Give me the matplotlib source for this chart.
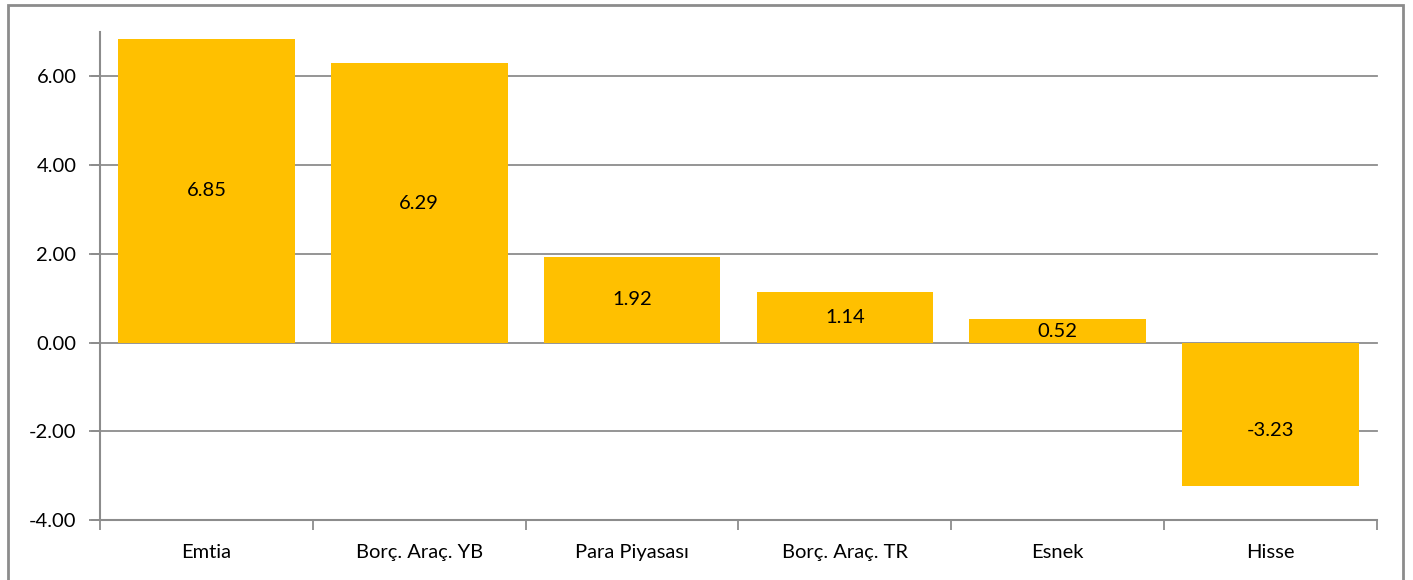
import matplotlib
matplotlib.use("Agg")
import matplotlib.pyplot as plt
from matplotlib.patches import Rectangle
import numpy as np

categories = ["Emtia", "Borç. Araç. YB", "Para Piyasası", "Borç. Araç. TR", "Esnek", "Hisse"]
values = [6.85, 6.29, 1.92, 1.14, 0.52, -3.23]
yticks = [-4, -2, 0, 2, 4, 6]

plt.rcParams['font.family'] = ['Lato', 'DejaVu Sans']

W, H = 1413, 580
fig = plt.figure(figsize=(W / 100, H / 100), dpi=100)
ax = fig.add_axes([100 / W, 1 - 520 / H, (1377 - 100) / W, (520 - 32) / H])

grey = "#8c8c8c"
fs = 14.5
x = np.arange(len(categories))
ax.bar(x, values, width=0.83, color="#FFC000", zorder=3)

ax.set_xlim(-0.5, len(categories) - 0.5)
ax.set_ylim(-4, 7)
ax.set_yticks(yticks)
ax.set_yticklabels([f"{t:.2f}" for t in yticks], fontsize=fs)
for t in yticks:
    ax.axhline(t, color=grey, lw=1.3, zorder=1, xmin=-8 / 1277, clip_on=False)

ax.set_xticks(x)
ax.set_xticklabels(categories, fontsize=fs)
ax.set_xticks(np.arange(len(categories) + 1) - 0.5, minor=True)
ax.tick_params(axis='x', which='major', length=0, pad=17)
ax.tick_params(axis='x', which='minor', length=7, width=1.3, color=grey)
ax.tick_params(axis='y', length=8, width=1.3, color=grey, pad=9)

for s in ["top", "right"]:
    ax.spines[s].set_visible(False)
for s in ["left", "bottom"]:
    ax.spines[s].set_color(grey)
    ax.spines[s].set_linewidth(1.5)

for xi, v in zip(x, values):
    yc = v / 2 if v >= 0 else v / 2 - 0.37
    ax.text(xi, yc, f"{v:.2f}", ha="center", va="center", fontsize=fs, zorder=4)

fig.patches.append(Rectangle((8 / W, -0.05), (1403 - 8) / W, 1.05 - 5 / H,
                             transform=fig.transFigure, fill=False,
                             edgecolor=grey, lw=2))

fig.savefig("out.png", dpi=100)
